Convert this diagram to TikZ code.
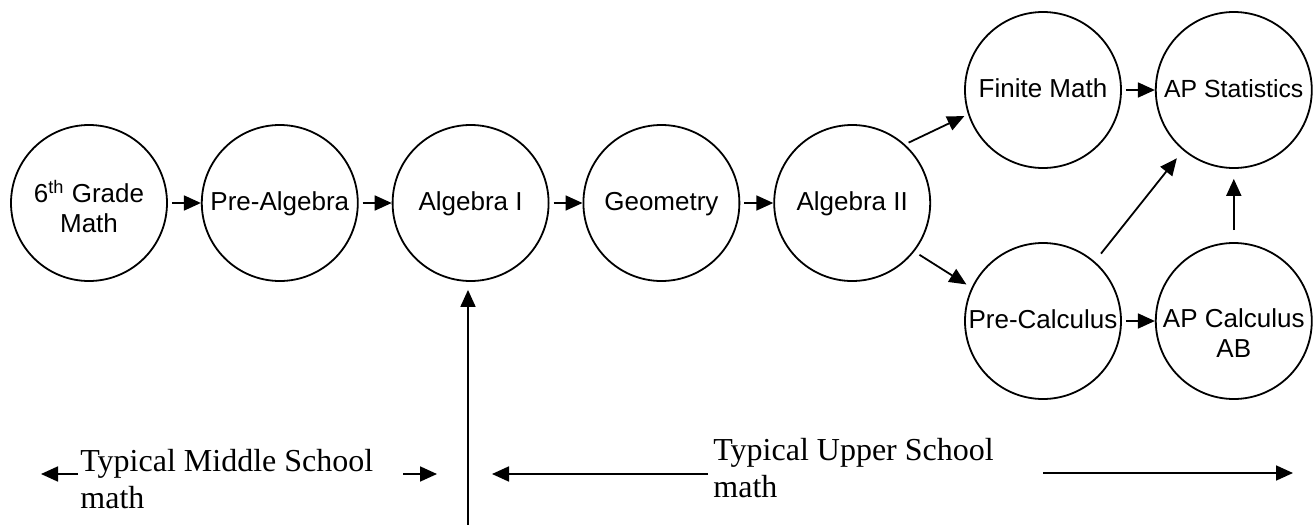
\documentclass[tikz,border=0pt]{standalone}
\usepackage{fontspec}
\setmainfont{Liberation Serif}
\setsansfont{Liberation Sans}
\usetikzlibrary{arrows.meta, positioning}

\begin{document}
\begin{tikzpicture}[
    x=0.5pt, y=-0.5pt,
    node distance=16.5pt,
    course/.style={circle, draw, line width=0.9pt, minimum size=78pt, inner sep=0pt, align=center, font=\sffamily\fontsize{13}{15}\selectfont, text height=9.5pt, text depth=2.5pt},
    note/.style={align=left, inner sep=0pt, anchor=base west, font=\fontsize{16}{18.5}\selectfont},
    line/.style={draw, line width=0.9pt, -{Triangle[length=8.5pt, width=7.5pt]}}
]
    \useasboundingbox (0,0) rectangle (1314,525);

    % Nodes
    \node (sixth) [course, text height=31.5pt] at (89,203) {6\textsuperscript{th} Grade\\Math};
    \node (prealg) [course, right=of sixth] {Pre-Algebra};
    \node (alg1) [course, right=of prealg] {Algebra I};
    \node (geom) [course, right=of alg1] {Geometry};
    \node (alg2) [course, right=of geom] {Algebra II};

    \node (finite) [course, right=of alg2, yshift=56.5pt] {Finite Math};
    \node (precalc) [course, right=of alg2, yshift=-59pt] {Pre-Calculus};
    \node (apstat) [course, right=of finite, font=\sffamily\fontsize{12.4}{15}\selectfont] {AP Statistics};
    \node (apcalc) [course, right=of precalc, text height=39pt, inner sep=-4pt] {AP Calculus\\AB};

    \node (midtext) [note] at (80,508) {Typical Middle School\\math};
    \node (uptext) [note] at (713,497) {Typical Upper School\\math};

    \coordinate (entry) at (468,525);
    \coordinate (ms-left) at (41,474);
    \coordinate (ms-tail) at (78,474);
    \coordinate (ms-right) at (437,474);
    \coordinate (ms-start) at (403,474);
    \coordinate (us-left) at (492,474);
    \coordinate (us-tail) at (708,474);
    \coordinate (us-start) at (1043,473);
    \coordinate (us-right) at (1293,473);

    % Connections
    \draw [line, shorten <=2pt] (sixth) -- (prealg);
    \draw [line, shorten <=2pt] (prealg) -- (alg1);
    \draw [line, shorten <=2pt] (alg1) -- (geom);
    \draw [line, shorten <=2pt] (geom) -- (alg2);
    \draw [line, shorten <=2pt, shorten >=2pt] (alg2.48) -- (finite.198);
    \draw [line, shorten <=3pt, shorten >=3pt] (alg2.-38) -- (precalc.155);
    \draw [line, shorten <=2pt] (finite) -- (apstat);
    \draw [line, shorten <=2pt] (precalc) -- (apcalc);
    \draw [line, shorten <=5pt, shorten >=5pt] (precalc.49) -- (apstat.230);
    \draw [line, shorten <=6pt, shorten >=5pt] (apcalc) -- (apstat);
    \draw [line, shorten >=4pt] (entry) -- (entry |- alg1.south);

    \draw [line] (ms-tail) -- (ms-left);
    \draw [line] (ms-start) -- (ms-right);
    \draw [line] (us-tail) -- (us-left);
    \draw [line] (us-start) -- (us-right);
\end{tikzpicture}
\end{document}
